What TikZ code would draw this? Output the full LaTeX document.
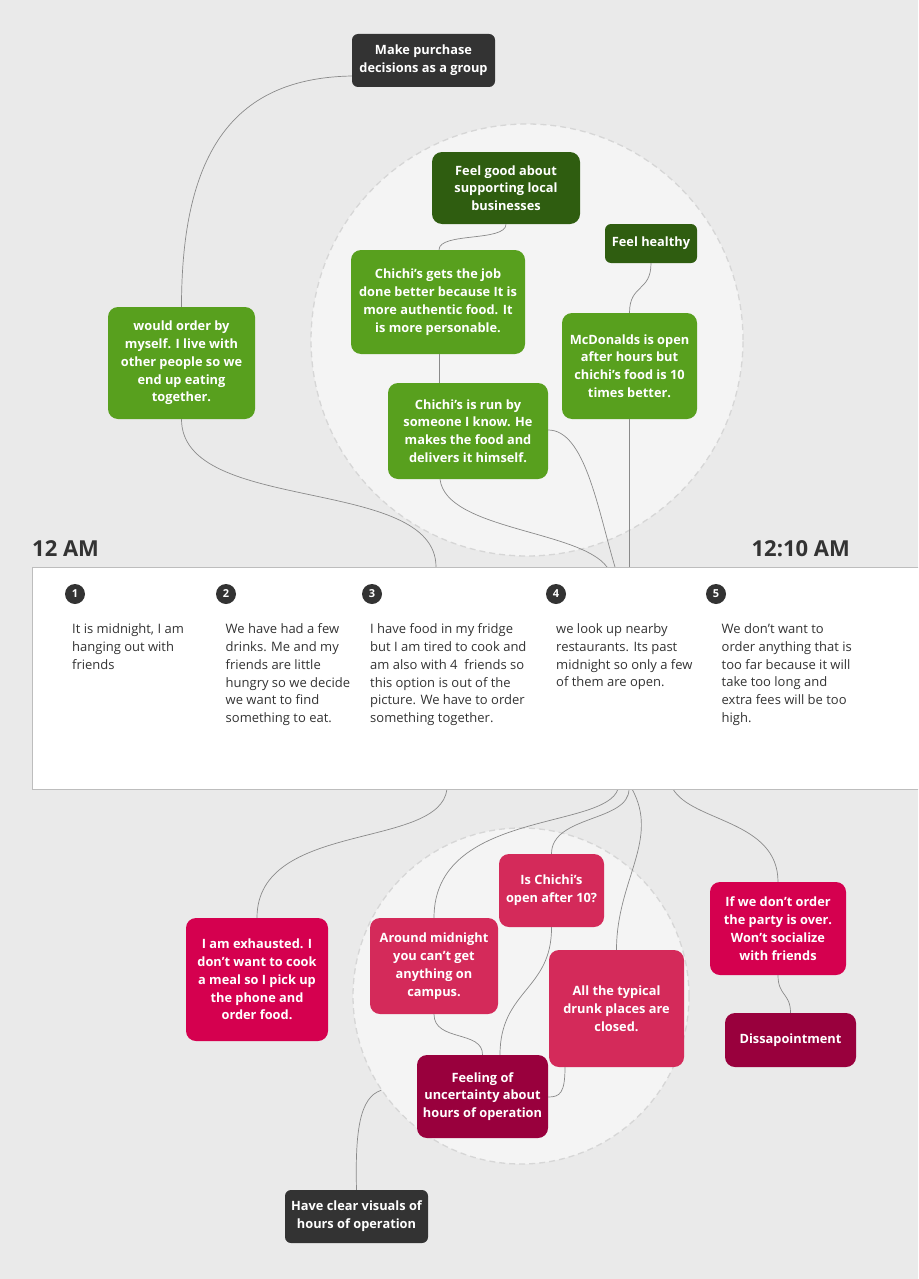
\documentclass[tikz,border=0pt]{standalone}
\usepackage{fontspec}
\setmainfont{Open Sans}
\usetikzlibrary{calc}
\definecolor{bg}{HTML}{EAEAEA}
\definecolor{clusterfill}{HTML}{F4F4F4}
\definecolor{dashc}{HTML}{D6D6D6}
\definecolor{darkbox}{HTML}{333333}
\definecolor{dgreen}{HTML}{2F5D10}
\definecolor{lgreen}{HTML}{58A01E}
\definecolor{hpink}{HTML}{D5004F}
\definecolor{lpink}{HTML}{D42A5A}
\definecolor{crimson}{HTML}{99003D}
\definecolor{linec}{HTML}{8A8A8A}
\definecolor{tlborder}{HTML}{BDBDBD}
\definecolor{tcol}{HTML}{333333}
\begin{document}
\begin{tikzpicture}[x=1pt,y=-1pt,
  box/.style={rounded corners=10pt, text=white, align=center, inner sep=0pt,
    font=\bfseries\fontsize{12.8}{17.8}\selectfont},
  smallbox/.style={box, rounded corners=6pt},
  conn/.style={draw=linec, line width=0.7pt},
  cluster/.style={circle, draw=dashc, dash pattern=on 6pt off 4pt, fill=clusterfill, line width=1.3pt, inner sep=0pt},
  numc/.style={circle, fill=darkbox, text=white, minimum size=20pt, inner sep=0pt, font=\bfseries\fontsize{11}{11}\selectfont},
  ttext/.style={anchor=north west, align=left, inner sep=0pt, text=tcol, font=\fontsize{13}{17.8}\selectfont},
  timelbl/.style={text=tcol, inner sep=0pt, font=\bfseries\fontsize{22}{22}\selectfont}
]
\clip (0,0) rectangle (918,1279);
\fill[bg] (0,0) rectangle (918,1279);

% clusters
\node[cluster, minimum size=432pt] (gc) at (527,340) {};
\node[cluster, minimum size=336pt] (pc) at (521,996) {};

% timeline anchors
\coordinate (tA) at (436,567);
\coordinate (tB) at (607,567);
\coordinate (tC) at (615,567);
\coordinate (tD) at (447,789);
\coordinate (tE) at (618,789);
\coordinate (tF) at (629,789);
\coordinate (tG) at (632,789);
\coordinate (tH) at (673,789);

% boxes top
\node[smallbox, fill=darkbox, minimum width=143pt, minimum height=53pt] (mp) at (423.5,60.5) {Make purchase\\decisions as a group};
\node[box, fill=dgreen, minimum width=148pt, minimum height=72pt] (fg) at (506,188) {Feel good about\\supporting local\\businesses};
\node[smallbox, fill=dgreen, minimum width=92pt, minimum height=39pt] (fh) at (651,243.5) {Feel healthy};
\node[box, fill=lgreen, minimum width=174pt, minimum height=104pt] (cg) at (438,302) {Chichi’s gets the job\\done better because It is\\more authentic food. It\\is more personable.};
\node[box, fill=lgreen, minimum width=160pt, minimum height=96pt] (cr) at (468,431) {Chichi’s is run by\\someone I know. He\\makes the food and\\delivers it himself.};
\node[box, fill=lgreen, minimum width=135pt, minimum height=106pt] (mc) at (629.5,366) {McDonalds is open\\after hours but\\chichi’s food is 10\\times better.};
\node[box, fill=lgreen, minimum width=147pt, minimum height=112pt] (wo) at (181.5,363) {would order by\\myself. I live with\\other people so we\\end up eating\\together.};

% boxes bottom
\node[box, fill=hpink, minimum width=142pt, minimum height=123pt] (ex) at (257,979.5) {I am exhausted. I\\don’t want to cook\\a meal so I pick up\\the phone and\\order food.};
\node[box, fill=lpink, minimum width=128pt, minimum height=96pt] (am) at (434,966) {Around midnight\\you can’t get\\anything on\\campus.};
\node[box, fill=lpink, minimum width=105pt, minimum height=73pt] (ic) at (551.5,890.5) {Is Chichi’s\\open after 10?};
\node[box, fill=lpink, minimum width=135pt, minimum height=117pt] (at) at (616.5,1008.5) {All the typical\\drunk places are\\closed.};
\node[box, fill=hpink, minimum width=136pt, minimum height=93pt] (wd) at (778,928.5) {If we don't order\\the party is over.\\Won't socialize\\with friends};
\node[box, fill=crimson, minimum width=131pt, minimum height=54pt] (di) at (790.5,1040) {Dissapointment};
\node[box, fill=crimson, minimum width=131pt, minimum height=83pt] (fu) at (482.5,1096.5) {Feeling of\\uncertainty about\\hours of operation};
\node[smallbox, fill=darkbox, minimum width=143pt, minimum height=53pt] (hc) at (356.5,1216.5) {Have clear visuals of\\hours of operation};

% connectors top
\draw[conn] ([yshift=-15.5pt]mp.west) .. controls (235,78) and (181.5,150) .. (wo.north);
\draw[conn] (wo.south) .. controls (181.5,515) and (436,475) .. (tA);
\draw[conn] (fg.south) .. controls (506,242) and (439,232) .. ([xshift=1pt]cg.north);
\draw[conn] ([xshift=1pt]cg.south) -- ([xshift=1pt]cg.south |- cr.north);
\draw[conn] ([xshift=-28pt]cr.south) .. controls (446,530) and (580,530) .. (tB);
\draw[conn] ([yshift=1pt]cr.east) .. controls (585,430) and (598,510) .. (tC);
\draw[conn] (fh.south) .. controls (651,292) and (629.5,284) .. (mc.north);
\draw[conn] (mc.south) -- (mc.south |- tA);
% connectors bottom
\draw[conn] (tD) .. controls (440,850) and (257,820) .. (ex.north);
\draw[conn] (tE) .. controls (605,830) and (434,810) .. (am.north);
\draw[conn] (tF) .. controls (629,822) and (551.5,815) .. (ic.north);
\draw[conn] (tG) .. controls (660,840) and (616.5,880) .. (at.north);
\draw[conn] (tH) .. controls (692,822) and (778,820) .. (wd.north);
\draw[conn] (wd.south) .. controls (778,996) and (790.5,993) .. (di.north);
\draw[conn] (ic.south) .. controls (552,990) and (500,990) .. ([xshift=17.5pt]fu.north);
\draw[conn] (am.south) .. controls (434,1042) and (483,1030) .. (fu.north);
\draw[conn] ([xshift=-51.5pt]at.south) .. controls (565,1093) and (560,1097) .. ([yshift=-0.5pt]fu.east);
\draw[conn] (hc.north) .. controls (355,1130) and (360,1097) .. (pc.214);

% timeline
\node[draw=tlborder, fill=white, line width=1pt, minimum width=893pt, minimum height=222pt, inner sep=0pt, anchor=north west] (tl) at (32,567) {};
\node[timelbl, anchor=base west] (l12) at (32,556) {12 AM};
\node[timelbl, anchor=base east] (l1210) at (850,556) {12:10 AM};

\node[numc] (n1) at (75,594) {1};
\node[numc] (n2) at (226,594) {2};
\node[numc] (n3) at (372,594) {3};
\node[numc] (n4) at (556,594) {4};
\node[numc] (n5) at (716,594) {5};

\node[ttext] (p1) at (72,623.5) {It is midnight, I am\\hanging out with\\friends};
\node[ttext] (p2) at (225.5,623.5) {We have had a few\\drinks. Me and my\\friends are little\\hungry so we decide\\we want to find\\something to eat.};
\node[ttext] (p3) at (370,623.5) {I have food in my fridge\\but I am tired to cook and\\am also with 4\ \ friends so\\this option is out of the\\picture. We have to order\\something together.};
\node[ttext] (p4) at (556,623.5) {we look up nearby\\restaurants. Its past\\midnight so only a few\\of them are open.};
\node[ttext] (p5) at (721.5,623.5) {We don't want to\\order anything that is\\too far because it will\\take too long and\\extra fees will be too\\high.};
\end{tikzpicture}
\end{document}
